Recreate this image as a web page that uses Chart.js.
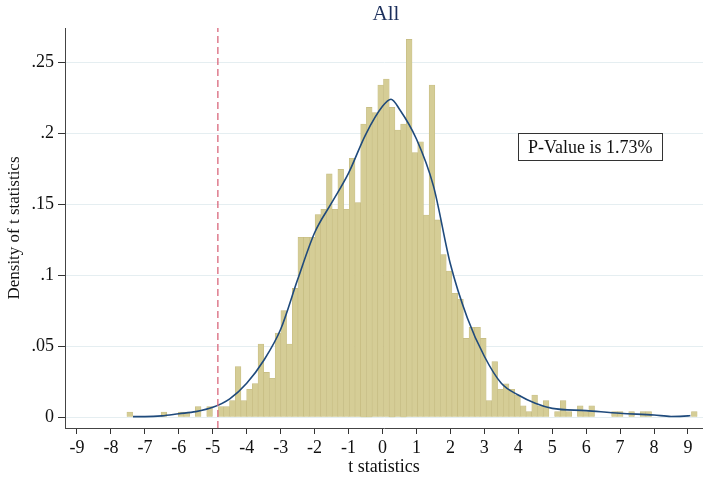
<!DOCTYPE html>
<html>
<head>
<meta charset="utf-8">
<script src="https://cdn.jsdelivr.net/npm/chart.js@4/dist/chart.umd.min.js"></script>
<style>
  html, body { margin: 0; padding: 0; background: #fff; }
  #box { width: 703px; height: 481px; }
</style>
</head>
<body>
<div id="box"><canvas id="graphique"></canvas></div>
<script>
// histogramme des t statistics + densite
const binStart = -7.53;
const binWidth = 0.168;

const densites = [
    0.0037, 0, 0, 0, 0, 0, 0.0037, 0, 0, 0.0037,
    0.0037, 0, 0.0075, 0, 0.0075, 0, 0.0075, 0.0075, 0.0117, 0.0357,
    0.0117, 0.0197, 0.0237, 0.0516, 0.0316, 0.0275, 0.0593, 0.0751, 0.0516, 0.0908,
    0.1268, 0.1268, 0.1268, 0.1428, 0.1465, 0.1714, 0.1465, 0.1746, 0.1465, 0.1824,
    0.1512, 0.2066, 0.2183, 0.2146, 0.2340, 0.2383, 0.2183, 0.2023, 0.2066, 0.2662,
    0.1864, 0.1941, 0.1425, 0.2340, 0.1390, 0.1146, 0.1030, 0.0873, 0.0831, 0.0556,
    0.0634, 0.0634, 0.0556, 0.0117, 0.0392, 0.0197, 0.0235, 0.0197, 0.0157, 0.0080,
    0.0040, 0.0157, 0.0080, 0.0117, 0, 0.0040, 0.0117, 0.0040, 0, 0.0080,
    0.0040, 0.0080, 0, 0, 0, 0.0040, 0.0040, 0, 0.0040, 0,
    0.0040, 0.0040, 0, 0, 0, 0, 0, 0, 0, 0.0040
];

// courbe de densite (kernel)
const kdeT = [-7.35, -7, -6.5, -6, -5.5, -5, -4.5, -4, -3.5, -3, -2.5, -2, -1.5, -1, -0.5, 0, 0.25, 0.5, 1, 1.5, 2, 2.5, 3, 3.5, 4, 4.5, 5, 6, 7, 8, 8.5, 9, 9.07];
const kdeY = [0.0005, 0.0005, 0.001, 0.0025, 0.004, 0.007, 0.013, 0.024, 0.040, 0.062, 0.097, 0.130, 0.151, 0.172, 0.199, 0.219, 0.224, 0.217, 0.196, 0.163, 0.108, 0.070, 0.043, 0.024, 0.0157, 0.0099, 0.0063, 0.0047, 0.0028, 0.0016, 0.0006, 0.0010, 0.0012];

const tCritique = -4.85;
const texteP = "P-Value is 1.73%";
const ticksX = [-9, -8, -7, -6, -5, -4, -3, -2, -1, 0, 1, 2, 3, 4, 5, 6, 7, 8, 9];
const ticksY = [0, 0.05, 0.1, 0.15, 0.2, 0.25];

const xMin = -9.3535, xMax = 9.442;
const yMin = -0.00754, yMax = 0.2742;

const SERIF = "'Liberation Serif', 'Times New Roman', serif";
const NAVY = "#1f4a7c";

function formatY(v) {
    if (v === 0) return "0";
    return String(+v.toFixed(2)).replace(/^0/, "");
}

const barres = densites.map((d, k) => ({ x: binStart + binWidth * (k + 0.5), y: d }));
const kde = kdeT.map((t, i) => ({ x: t, y: kdeY[i] }));

const decor = {
    id: "decor",
    afterDraw(chart) {
        const ctx = chart.ctx;
        const a = chart.chartArea;
        const sx = chart.scales.x, sy = chart.scales.y;
        ctx.save();
        // titre
        ctx.fillStyle = "#1c2f5c";
        ctx.font = "21px " + SERIF;
        ctx.textAlign = "center";
        ctx.textBaseline = "middle";
        ctx.fillText("All", (a.left + a.right) / 2 + 2, 14);
        // boite p-value
        ctx.font = "18px " + SERIF;
        const w = ctx.measureText(texteP).width + 20;
        const h = 27;
        const cx = sx.getPixelForValue(6.12);
        const cy = sy.getPixelForValue(0.1905);
        ctx.fillStyle = "#fff";
        ctx.fillRect(cx - w / 2, cy - h / 2, w, h);
        ctx.strokeStyle = "#333";
        ctx.lineWidth = 1;
        ctx.strokeRect(Math.round(cx - w / 2) + 0.5, Math.round(cy - h / 2) + 0.5, Math.round(w), h);
        ctx.fillStyle = "#111";
        ctx.fillText(texteP, cx, cy + 1);
        ctx.restore();
    }
};

new Chart(document.getElementById("graphique"), {
    type: "bar",
    data: {
        datasets: [
            {
                type: "line",
                label: "t critique",
                data: [{ x: tCritique, y: yMin }, { x: tCritique, y: yMax }],
                borderColor: "#d9677c",
                borderWidth: 1.3,
                borderDash: [7, 4],
                pointRadius: 0,
                tension: 0,
                order: 0
            },
            {
                type: "line",
                label: "densite",
                data: kde,
                borderColor: NAVY,
                borderWidth: 1.6,
                pointRadius: 0,
                cubicInterpolationMode: "monotone",
                order: 1
            },
            {
                label: "histogramme",
                data: barres,
                backgroundColor: "#d5cd96",
                borderColor: "#c4ba80",
                borderWidth: 0.6,
                barPercentage: 1,
                categoryPercentage: 1,
                order: 3
            }
        ]
    },
    options: {
        responsive: true,
        maintainAspectRatio: false,
        animation: false,
        layout: { padding: { top: 28, right: 0, left: 0, bottom: 0 } },
        plugins: {
            legend: { display: false },
            tooltip: { enabled: false }
        },
        scales: {
            x: {
                type: "linear",
                offset: false,
                min: xMin,
                max: xMax,
                afterBuildTicks: s => { s.ticks = ticksX.map(v => ({ value: v })); },
                afterFit: s => { s.height = 53; },
                grid: { offset: false, drawOnChartArea: false, tickLength: 6, tickColor: "#333" },
                border: { color: "#444", width: 1 },
                ticks: {
                    color: "#111",
                    font: { family: SERIF, size: 18 },
                    padding: 3,
                    maxRotation: 0,
                    autoSkip: false
                },
                title: {
                    display: true,
                    text: "t statistics",
                    color: "#111",
                    font: { family: SERIF, size: 18 },
                    padding: { top: 0, bottom: 3 }
                }
            },
            y: {
                min: yMin,
                max: yMax,
                afterBuildTicks: s => { s.ticks = ticksY.map(v => ({ value: v })); },
                afterFit: s => { s.width = 65; },
                grid: { color: "#e5eef1", tickLength: 7, tickColor: "#333" },
                border: { color: "#444", width: 1 },
                ticks: {
                    color: "#111",
                    font: { family: SERIF, size: 18 },
                    padding: 4,
                    callback: v => formatY(v)
                },
                title: {
                    display: true,
                    text: "Density of t statistics",
                    color: "#111",
                    font: { family: SERIF, size: 17 },
                    padding: { top: 4, bottom: 0 }
                }
            }
        }
    },
    plugins: [decor]
});
</script>
</body>
</html>
